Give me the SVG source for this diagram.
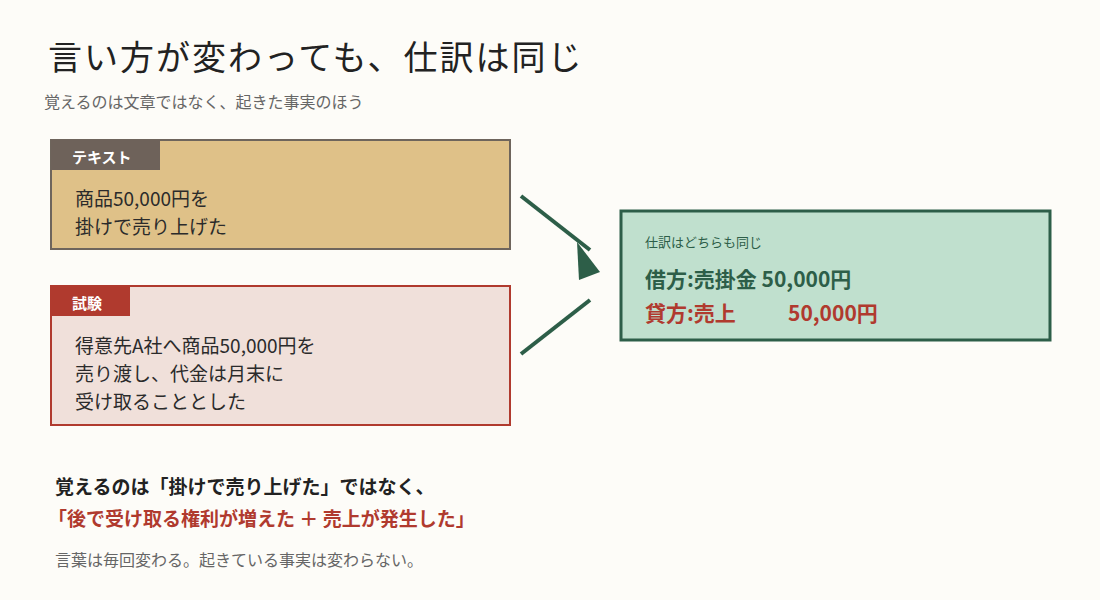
<svg xmlns="http://www.w3.org/2000/svg" width="1100" height="600" viewBox="0 0 1100 600">
<style>
text{font-family:"Noto Sans CJK JP","Noto Sans",sans-serif}
.body{font-size:19px;fill:#2b2b2b}
.tag{font-size:15px;font-weight:bold;fill:#fff}
.conn{stroke:#2d5e48;stroke-width:4;fill:none}
</style>
<rect width="1100" height="600" fill="#fdfcf8"/>
<text x="48" y="70" font-size="34" fill="#222" letter-spacing="2">言い方が変わっても、仕訳は同じ</text>
<text x="44" y="108" font-size="16" fill="#666">覚えるのは文章ではなく、起きた事実のほう</text>
<g id="text-box">
<rect x="51" y="140" width="459" height="109" fill="#dfc188" stroke="#6e655c" stroke-width="2"/>
<rect x="51" y="140" width="109" height="30" fill="#6e625a"/>
<text x="72" y="163" class="tag">テキスト</text>
<text x="75" y="206" class="body">商品50,000円を</text>
<text x="75" y="234" class="body">掛けで売り上げた</text>
</g>
<g id="exam-box">
<rect x="51" y="286" width="459" height="139" fill="#f0e0da" stroke="#b03a2e" stroke-width="2"/>
<rect x="51" y="286" width="79" height="30" fill="#b03a2e"/>
<text x="72" y="309" class="tag">試験</text>
<text x="75" y="353" class="body">得意先A社へ商品50,000円を</text>
<text x="75" y="381" class="body">売り渡し、代金は月末に</text>
<text x="75" y="409" class="body">受け取ることとした</text>
</g>
<g id="journal-box">
<rect x="621" y="211" width="429" height="129" fill="#c0e0ce" stroke="#2d5e48" stroke-width="3"/>
<text x="645" y="247" font-size="13" fill="#2d5e48">仕訳はどちらも同じ</text>
<text x="645" y="287" font-size="21" font-weight="bold" fill="#2d5e48">借方:売掛金 50,000円</text>
<text x="645" y="321" font-size="21" font-weight="bold" fill="#b03a2e">貸方:売上<tspan x="788">50,000円</tspan></text>
</g>
<g id="connectors">
<line x1="521" y1="196" x2="590" y2="250" class="conn"/>
<line x1="521" y1="354" x2="590" y2="300" class="conn"/>
<polygon points="577,242 600,272 579,280" fill="#2d5e48"/>
</g>
<text x="55" y="494" font-size="19" font-weight="bold" fill="#222">覚えるのは「掛けで売り上げた」ではなく、</text>
<text x="48" y="526" font-size="19" font-weight="bold" fill="#b03a2e">「後で受け取る権利が増えた ＋ 売上が発生した」</text>
<text x="55" y="566" font-size="16" fill="#666">言葉は毎回変わる。起きている事実は変わらない。</text>
</svg>
